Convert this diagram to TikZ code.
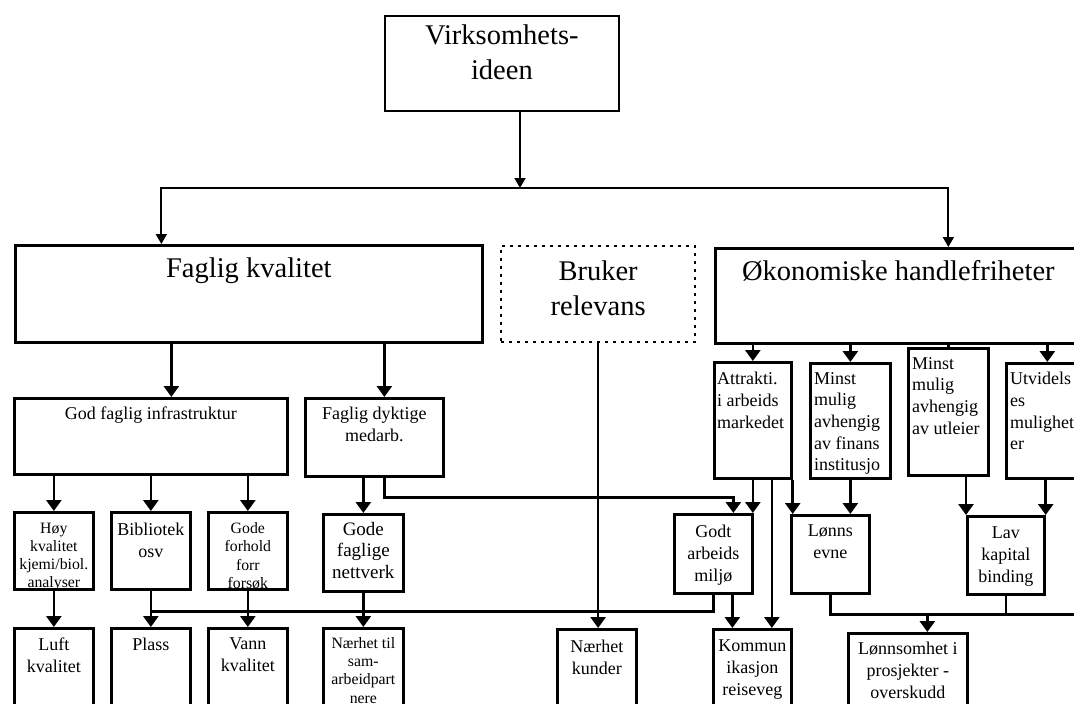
\documentclass[tikz,border=0pt]{standalone}
\usepackage{fontspec}
\setmainfont{Liberation Serif}
\usetikzlibrary{arrows.meta}

\tikzset{
  box/.style={draw, line width=2.7pt, rectangle, anchor=north west, inner sep=0pt},
  txt/.style={anchor=north, align=center, inner sep=0pt, font=\fontsize{18}{22}\selectfont},
  ltxt/.style={anchor=north west, align=left, inner sep=0pt, font=\fontsize{18}{21.7}\selectfont},
  bigtxt/.style={font=\fontsize{28.5}{35}\selectfont},
  tinytxt/.style={font=\fontsize{15.8}{18.3}\selectfont},
  wire/.style={line width=2.7pt},
  arr/.style={line width=2.7pt, -{Triangle[width=15pt,length=11pt]}},
  arrthin/.style={line width=1.8pt, -{Triangle[width=11pt,length=10pt]}}
}

\begin{document}
\begin{tikzpicture}[x=1pt, y=-1pt]
  % page frame
  \useasboundingbox (0,0) rectangle (1074,704);
  \fill[white] (0,0) rectangle (1074,704);
  \clip (0,0) rectangle (1074,704);

  % top box
  \node[box, line width=1.8pt, minimum width=234pt, minimum height=95pt] (virk) at (384,15) {};
  \node[txt, bigtxt] (virk-t) at ([yshift=-10pt]virk.north) {Virksomhets-\\ideen};

  % main fields
  \node[box, minimum width=467pt, minimum height=97pt] (fag) at (14,244) {};
  \node[txt, bigtxt] (fag-t) at ([yshift=-14pt]fag.north) {Faglig kvalitet};
  \node[box, line width=2.2pt, dash pattern=on 3pt off 5pt, minimum width=194pt, minimum height=96pt] (bru) at (500,245) {};
  \node[txt, bigtxt] (bru-t) at ([yshift=-16pt]bru.north) {Bruker\\relevans};
  \node[box, minimum width=366pt, minimum height=95pt] (oko) at (714,247) {};
  \node[txt, bigtxt] (oko-t) at ([yshift=-13pt]oko.north) {Økonomiske handlefriheter};

  % faglig kvalitet, second row
  \node[box, minimum width=273pt, minimum height=76pt] (gfi) at (13,397) {};
  \node[txt] (gfi-t) at ([yshift=-10pt]gfi.north) {God faglig infrastruktur};
  \node[box, minimum width=138pt, minimum height=78pt] (fdm) at (304,397) {};
  \node[txt] (fdm-t) at ([yshift=-10pt]fdm.north) {Faglig dyktige\\medarb.};

  % faglig kvalitet, third row
  \node[box, minimum width=79pt, minimum height=77pt] (hoy) at (13,511) {};
  \begin{scope}
    \clip (hoy.north west) rectangle (hoy.south east);
    \node[txt, tinytxt] (hoy-t) at ([yshift=-11.5pt]hoy.north) {Høy\\kvalitet\\kjemi/biol.\\analyser};
  \end{scope}
  \node[box, minimum width=79pt, minimum height=77pt] (bib) at (110,511) {};
  \node[txt] (bib-t) at ([yshift=-12pt]bib.north) {Bibliotek\\osv};
  \node[box, minimum width=79pt, minimum height=77pt] (gfo) at (207,511) {};
  \begin{scope}
    \clip (gfo.north west) rectangle (gfo.south east);
    \node[txt, tinytxt] (gfo-t) at ([yshift=-11.5pt]gfo.north) {Gode\\forhold\\forr\\forsøk};
  \end{scope}
  \node[box, minimum width=80pt, minimum height=77pt] (gfn) at (322,513) {};
  \node[txt, font=\fontsize{19}{21.5}\selectfont] (gfn-t) at ([yshift=-9pt]gfn.north) {Gode\\faglige\\nettverk};

  % bottom row
  \node[box, minimum width=79pt, minimum height=100pt] (luf) at (13,627) {};
  \node[txt] (luf-t) at ([yshift=-11pt]luf.north) {Luft\\kvalitet};
  \node[box, minimum width=79pt, minimum height=100pt] (pla) at (110,627) {};
  \node[txt] (pla-t) at ([yshift=-11pt]pla.north) {Plass};
  \node[box, minimum width=79pt, minimum height=100pt] (van) at (207,627) {};
  \node[txt] (van-t) at ([yshift=-11pt]van.north) {Vann\\kvalitet};
  \node[box, minimum width=80pt, minimum height=100pt] (nte) at (322,627) {};
  \node[txt, tinytxt] (nte-t) at ([yshift=-10pt]nte.north) {Nærhet til\\sam-\\arbeidpart\\nere};
  \node[box, minimum width=79pt, minimum height=100pt] (nku) at (556,628) {};
  \node[txt] (nku-t) at ([yshift=-12pt]nku.north) {Nærhet\\kunder};

  % økonomiske handlefriheter, second row
  \node[box, minimum width=77pt, minimum height=116pt] (att) at (713,361) {};
  \node[ltxt] (att-t) at ([xshift=4pt, yshift=-11pt]att.north west) {Attrakti.\\i arbeids\\markedet};
  \node[box, minimum width=80pt, minimum height=115pt] (mfi) at (809,362) {};
  \node[ltxt] (mfi-t) at ([xshift=5pt, yshift=-10pt]mfi.north west) {Minst\\mulig\\avhengig\\av finans\\institusjo};
  \node[box, minimum width=80pt, minimum height=127pt] (mut) at (907,347) {};
  \node[ltxt] (mut-t) at ([xshift=5pt, yshift=-10pt]mut.north west) {Minst\\mulig\\avhengig\\av utleier};
  \node[box, minimum width=82pt, minimum height=115pt] (utv) at (1005,362) {};
  \node[ltxt] (utv-t) at ([xshift=5pt, yshift=-10pt]utv.north west) {Utvidels\\es\\mulighet\\er};

  % økonomiske handlefriheter, third row
  \node[box, minimum width=78pt, minimum height=79pt] (gam) at (673,513) {};
  \node[txt] (gam-t) at ([yshift=-12pt]gam.north) {Godt\\arbeids\\miljø};
  \node[box, minimum width=78pt, minimum height=78pt] (len) at (790,514) {};
  \node[txt] (len-t) at ([yshift=-11pt]len.north) {Lønns\\evne};
  \node[box, minimum width=77pt, minimum height=78pt] (lav) at (966,515) {};
  \node[txt] (lav-t) at ([yshift=-12pt]lav.north) {Lav\\kapital\\binding};
  \node[box, minimum width=78pt, minimum height=100pt] (kom) at (712,628) {};
  \node[txt] (kom-t) at ([yshift=-12pt]kom.north) {Kommun\\ikasjon\\reiseveg};
  \node[box, minimum width=119pt, minimum height=100pt] (lon) at (847,632) {};
  \node[txt] (lon-t) at ([yshift=-10pt]lon.north) {Lønnsomhet i\\prosjekter -\\overskudd};

  % top connectors
  \coordinate (top) at (520,188);
  \draw[arrthin] (virk.south -| top) -- (top);
  \draw[arrthin] (top) -| ([xshift=-87.5pt]fag.north);
  \draw[arrthin] (top) -| ([xshift=50pt]oko.north);

  % faglig kvalitet connectors
  \draw[arr] ([xshift=20.5pt]gfi.north |- fag.south) -- ([xshift=20.5pt]gfi.north);
  \draw[arr] ([xshift=10pt]fdm.north |- fag.south) -- ([xshift=10pt]fdm.north);
  \draw[arr] (gfi.south -| hoy.north) -- (hoy.north);
  \draw[arr] (gfi.south -| bib.north) -- (bib.north);
  \draw[arr] (gfi.south -| gfo.north) -- (gfo.north);
  \draw[arr] (fdm.south -| gfn.north) -- (gfn.north);
  \draw[arr] (hoy.south) -- (luf.north);
  \draw[arr] (gfo.south) -- (van.north);
  \draw[arr] (gfn.south) -- (nte.north);
  \draw[arr] ([xshift=10pt]fdm.south) -- ++(0,20) -| ([xshift=20pt]gam.north);
  \coordinate (bus) at ([yshift=-17pt]gam.south);
  \draw[arr] (gam.south) -- (bus) -| (pla.north);
  \draw[wire] (bib.south) -- (bib.south |- bus);

  % bruker relevans
  \draw[arr] (bru.south) -- (bru.south |- nku.north);

  % økonomiske connectors
  \draw[arr] (oko.south -| att.north) -- (att.north);
  \draw[arr] (oko.south -| mfi.north) -- (mfi.north);
  \draw[wire] (oko.south -| mut.north) -- (mut.north);
  \draw[arr] (oko.south -| utv.north) -- (utv.north);
  \draw[arr] (att.south) -- (att.south |- gam.north);
  \draw[arr] ([xshift=19pt]att.south) -- ([xshift=19pt]att.south |- kom.north);
  \draw[arr] (att.south east) -- (att.south east |- len.north);
  \draw[arr] (mfi.south) -- (mfi.south |- len.north);
  \draw[arr] (lav.north west |- mut.south) -- (lav.north west);
  \draw[arr] (lav.north east |- utv.south) -- (lav.north east);
  \draw[arr] ([xshift=19pt]gam.south) -- ([xshift=19pt]gam.south |- kom.north);
  \coordinate (sum) at ([yshift=-20pt]len.south);
  \draw[wire] (len.south) -- (sum) -- (sum -| utv.east);
  \draw[wire] (lav.south) -- (lav.south |- sum);
  \draw[arr] ([xshift=19.5pt]lon.north |- sum) -- ([xshift=19.5pt]lon.north);
\end{tikzpicture}
\end{document}
